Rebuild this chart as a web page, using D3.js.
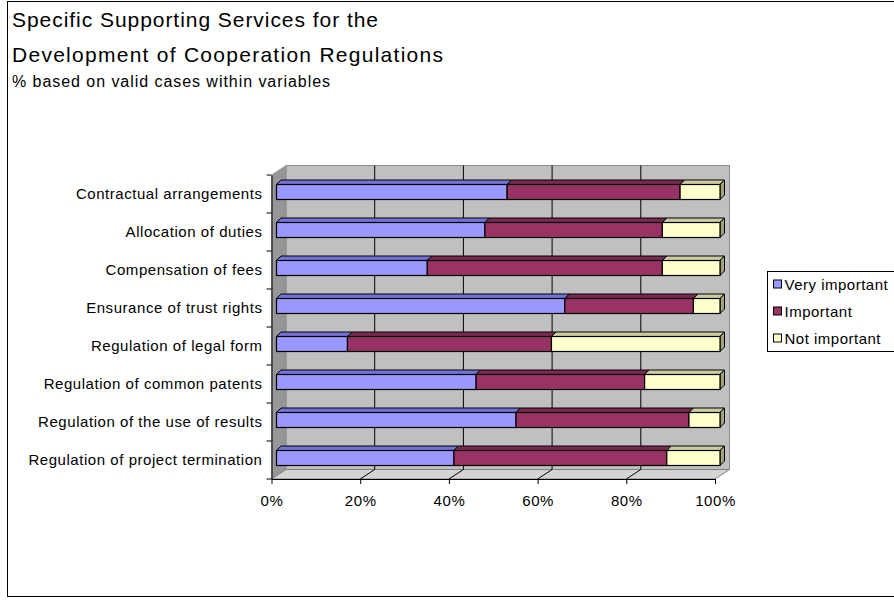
<!DOCTYPE html>
<html>
<head>
<meta charset="utf-8">
<script src="https://cdn.jsdelivr.net/npm/d3@7"></script>
<style>
  html, body { margin: 0; padding: 0; background: #fff; }
  svg text { font-family: "Liberation Sans", Arial, sans-serif; fill: #000; }
</style>
</head>
<body>
<svg id="chart" width="894" height="600"></svg>
<script>
// Survey categories (top to bottom) and the share of answers per rating
const categories = [
  "Contractual arrangements",
  "Allocation of duties",
  "Compensation of fees",
  "Ensurance of trust rights",
  "Regulation of legal form",
  "Regulation of common patents",
  "Regulation of the use of results",
  "Regulation of project termination"
];
const seriesNames = ["Very important", "Important", "Not important"];
const veryImportant = [52, 47, 34, 65, 16, 45, 54, 40];
const important     = [39, 40, 53, 29, 46, 38, 39, 48];
const notImportant  = [9, 13, 13, 6, 38, 17, 7, 12];
const tickValues = [0, 20, 40, 60, 80, 100];

const titleLines = [
  "Specific Supporting Services for the",
  "Development of Cooperation Regulations"
];
const subtitle = "% based on valid cases within variables";

// face colours: front, top, side
const palette = [
  { front: "#9999FF", top: "#7373D6", side: "#6666BF" },
  { front: "#993366", top: "#7A2952", side: "#66224A" },
  { front: "#FFFFCC", top: "#CCCCA3", side: "#A3A37A" }
];

const svg = d3.select("#chart");

// outer chart frame
svg.append("rect")
  .attr("x", 7.5).attr("y", 1.5)
  .attr("width", 900).attr("height", 595)
  .attr("fill", "#fff").attr("stroke", "#000").attr("stroke-width", 1);

// titles
svg.append("text").attr("x", 12).attr("y", 27)
  .attr("font-size", 21).attr("textLength", 366).attr("lengthAdjust", "spacing")
  .text(titleLines[0]);
svg.append("text").attr("x", 12).attr("y", 62)
  .attr("font-size", 21).attr("textLength", 431).attr("lengthAdjust", "spacing")
  .text(titleLines[1]);
svg.append("text").attr("x", 12).attr("y", 87)
  .attr("font-size", 16).attr("textLength", 318).attr("lengthAdjust", "spacing")
  .text(subtitle);

// 3D plot frame: front plane and depth offset of the walls
const front = { left: 271.5, right: 715, top: 175, bottom: 479 };
const depth = { dx: 14.5, dy: -9.5 };

const x = d3.scaleLinear().domain([0, 100]).range([front.left, front.right]);
const y = d3.scaleBand().domain(categories).range([front.top, front.bottom]);

const g = svg.append("g");

// back wall
const wallX0 = front.left + depth.dx, wallX1 = front.right + depth.dx;
const wallY0 = front.top + depth.dy, wallY1 = front.bottom + depth.dy;
g.append("rect")
  .attr("x", wallX0).attr("y", wallY0)
  .attr("width", wallX1 - wallX0).attr("height", wallY1 - wallY0)
  .attr("fill", "#C0C0C0").attr("stroke", "#8C8C8C").attr("stroke-width", 1);

// side wall
g.append("path")
  .attr("d", `M${front.left},${front.top} L${wallX0},${wallY0} L${wallX0},${wallY1} L${front.left},${front.bottom} Z`)
  .attr("fill", "#969696").attr("stroke", "#808080").attr("stroke-width", 0.5);

// floor
g.append("path")
  .attr("d", `M${front.left},${front.bottom} L${wallX0},${wallY1} L${wallX1},${wallY1} L${front.right},${front.bottom} Z`)
  .attr("fill", "#D4D4D4").attr("stroke", "#808080").attr("stroke-width", 1);

// gridlines on back wall and floor
tickValues.filter(v => v > 0 && v < 100).forEach(v => {
  g.append("line")
    .attr("x1", x(v) + depth.dx).attr("x2", x(v) + depth.dx)
    .attr("y1", wallY0).attr("y2", wallY1)
    .attr("stroke", "#000").attr("stroke-width", 1);
  g.append("line")
    .attr("x1", x(v) + depth.dx).attr("y1", wallY1)
    .attr("x2", x(v)).attr("y2", front.bottom)
    .attr("stroke", "#000").attr("stroke-width", 1);
});

// stacked 3D bars
const rows = categories.map((c, i) => {
  const vals = [veryImportant[i], important[i], notImportant[i]];
  let acc = 0;
  return { cat: c, segs: vals.map((v, k) => { const s = { k, x0: acc, x1: acc + v }; acc += v; return s; }) };
});

const barH = 15, barDx = 5, barDy = -2, bd = 4.5;
rows.forEach(r => {
  const yc = y(r.cat) + y.bandwidth() / 2 + barDy;
  const yTop = yc - barH / 2, yBot = yc + barH / 2;
  r.segs.forEach((s, idx) => {
    const xa = x(s.x0) + barDx, xb = x(s.x1) + barDx;
    const col = palette[s.k];
    // top face
    g.append("path")
      .attr("d", `M${xa},${yTop} L${xa + bd},${yTop - bd} L${xb + bd},${yTop - bd} L${xb},${yTop} Z`)
      .attr("fill", col.top).attr("stroke", "#000").attr("stroke-width", 1).attr("stroke-linejoin", "round");
    // end face of the last segment
    if (idx === r.segs.length - 1) {
      g.append("path")
        .attr("d", `M${xb},${yTop} L${xb + bd},${yTop - bd} L${xb + bd},${yBot - bd} L${xb},${yBot} Z`)
        .attr("fill", col.side).attr("stroke", "#000").attr("stroke-width", 1).attr("stroke-linejoin", "round");
    }
    // front face
    g.append("rect")
      .attr("x", xa).attr("y", yTop)
      .attr("width", xb - xa).attr("height", barH)
      .attr("fill", col.front).attr("stroke", "#000").attr("stroke-width", 1.2);
  });
});

// value axis along the front edge
const xAxis = d3.axisBottom(x).tickValues(tickValues).tickFormat(d => d + "%")
  .tickSizeInner(5).tickSizeOuter(0).tickPadding(11);
const xa = svg.append("g").attr("transform", `translate(0,${front.bottom})`).call(xAxis);
xa.select(".domain").attr("stroke", "#000");
xa.selectAll("line").attr("stroke", "#000");
xa.selectAll("text").attr("font-size", 15).attr("letter-spacing", 0.6)
  .attr("font-family", "Liberation Sans, Arial, sans-serif");

// category axis along the front edge
const yAxis = d3.axisLeft(y).tickSize(0).tickPadding(9);
const ya = svg.append("g").attr("transform", `translate(${front.left},0)`).call(yAxis);
ya.select(".domain").attr("stroke", "#000");
ya.selectAll("text").attr("font-size", 15).attr("letter-spacing", 0.55)
  .attr("font-family", "Liberation Sans, Arial, sans-serif");
// category separator ticks
categories.concat([null]).forEach((c, i) => {
  const ty = front.top + i * y.step();
  ya.append("line").attr("x1", -5).attr("x2", 0).attr("y1", ty).attr("y2", ty).attr("stroke", "#000");
});

// legend
const lg = svg.append("g").attr("transform", "translate(767.5,271.5)");
lg.append("rect").attr("width", 140).attr("height", 80)
  .attr("fill", "#fff").attr("stroke", "#000").attr("stroke-width", 1);
seriesNames.forEach((n, i) => {
  const row = lg.append("g").attr("transform", `translate(6,${13 + i * 27})`);
  row.append("rect").attr("x", 0).attr("y", -4.5).attr("width", 8).attr("height", 8)
    .attr("fill", palette[i].front).attr("stroke", "#000").attr("stroke-width", 1);
  row.append("text").attr("x", 11).attr("y", 0).attr("dy", "0.35em")
    .attr("font-size", 15).attr("letter-spacing", 0.5).text(n);
});
</script>
</body>
</html>
